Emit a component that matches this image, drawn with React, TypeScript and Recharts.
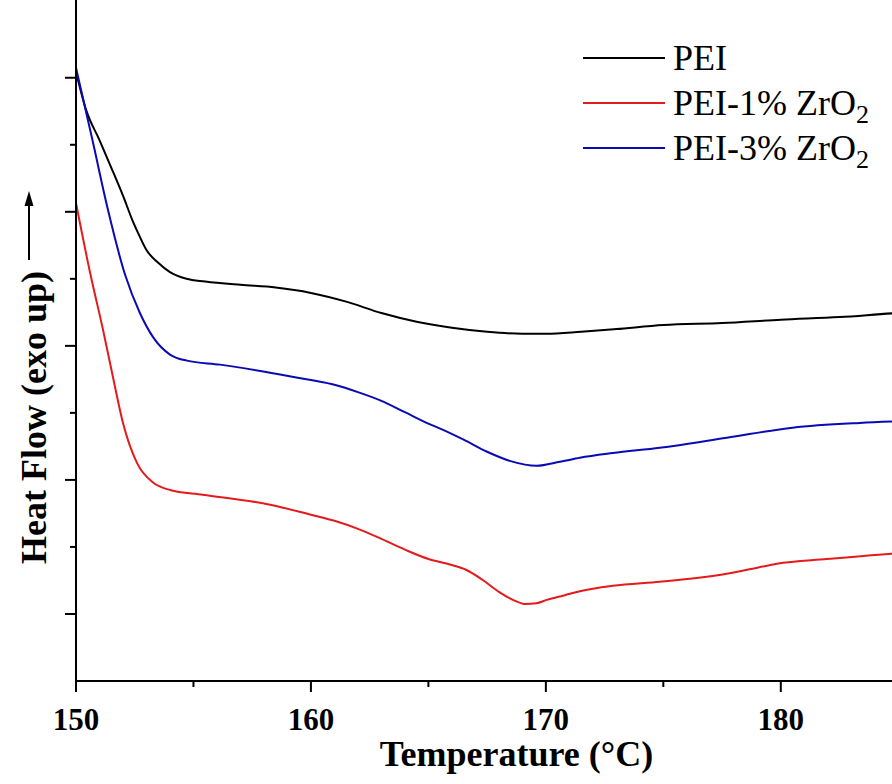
import React from "react";
import {
  LineChart,
  Line,
  XAxis,
  YAxis,
  Legend,
  Label,
} from "recharts";

const SERIF = '"Liberation Serif", "Times New Roman", serif';

// temperatures (°C) and heat flow (arbitrary units, exo up)
const PEI_T = [150.0, 150.43, 151.0, 151.5, 152.0, 152.43, 152.7, 153.0, 153.5, 154.0, 154.7, 155.5, 157.0, 158.5, 160.0, 161.5, 163.0, 164.5, 166.0, 167.5, 169.0, 170.0, 171.5, 173.0, 175.0, 177.5, 180.0, 182.5, 185.0, 187.5];
const PEI_V = [9.09, 8.52, 8.07, 7.66, 7.24, 6.85, 6.64, 6.43, 6.24, 6.1, 6.0, 5.96, 5.91, 5.87, 5.79, 5.66, 5.49, 5.36, 5.27, 5.21, 5.18, 5.18, 5.21, 5.25, 5.31, 5.34, 5.39, 5.43, 5.49, 5.52];

const PEI1_T = [150.0, 150.6, 151.15, 151.57, 152.0, 152.6, 153.28, 154.0, 155.4, 158.26, 160.0, 161.0, 162.0, 163.0, 164.0, 165.0, 166.0, 166.6, 167.3, 168.0, 168.6, 169.1, 169.6, 170.04, 170.8, 171.45, 172.85, 174.85, 176.5, 177.7, 179.0, 179.83, 181.96, 184.72, 187.5];
const PEI1_V = [7.13, 6.09, 5.24, 4.54, 3.85, 3.25, 2.96, 2.85, 2.78, 2.63, 2.48, 2.39, 2.27, 2.12, 1.96, 1.82, 1.73, 1.66, 1.51, 1.33, 1.21, 1.15, 1.16, 1.21, 1.28, 1.34, 1.42, 1.48, 1.54, 1.60, 1.69, 1.75, 1.82, 1.90, 1.96];

const PEI3_T = [150.0, 150.7, 151.36, 152.09, 152.72, 153.28, 154.0, 154.72, 156.13, 158.26, 160.0, 161.0, 162.0, 163.0, 164.0, 165.0, 165.6, 166.5, 167.5, 168.5, 169.6, 170.6, 171.45, 172.85, 174.85, 177.7, 180.5, 183.36, 185.5, 187.5];
const PEI3_V = [9.15, 8.07, 7.03, 6.06, 5.49, 5.13, 4.87, 4.78, 4.72, 4.6, 4.49, 4.42, 4.31, 4.18, 4.01, 3.84, 3.75, 3.6, 3.42, 3.28, 3.21, 3.27, 3.33, 3.4, 3.48, 3.63, 3.78, 3.85, 3.88, 3.9];

const X_TICKS = [150, 155, 160, 165, 170, 175, 180, 185];
const Y_TICKS = [1, 2, 3, 4, 5, 6, 7, 8, 9];

const toRows = (t: number[], v: number[]) => t.map((x, i) => ({ t: x, v: v[i] }));

const SERIES = [
  { key: "pei", name: "PEI", base: "PEI", sub: "", color: "#000000", data: toRows(PEI_T, PEI_V) },
  { key: "pei1", name: "PEI-1% ZrO2", base: "PEI-1% ZrO", sub: "2", color: "#e41a1c", data: toRows(PEI1_T, PEI1_V) },
  { key: "pei3", name: "PEI-3% ZrO2", base: "PEI-3% ZrO", sub: "2", color: "#0a0ab4", data: toRows(PEI3_T, PEI3_V) },
];

function XTick(props: any) {
  const { x, y, payload } = props;
  const major = payload.value % 10 === 0;
  return (
    <g>
      <line x1={x} x2={x} y1={y} y2={y + (major ? 11 : 6)} stroke="#000" strokeWidth={2} />
      {major && (
        <text x={x} y={y + 49} textAnchor="middle" fontFamily={SERIF} fontWeight="bold" fontSize={31} fill="#000">
          {payload.value}
        </text>
      )}
    </g>
  );
}

function YTick(props: any) {
  const { x, y, payload } = props;
  const major = payload.value % 2 === 1;
  return <line x1={x - (major ? 11 : 6)} x2={x} y1={y} y2={y} stroke="#000" strokeWidth={2} />;
}

function YTitle() {
  return (
    <g>
      <text
        x={46}
        y={271}
        transform="rotate(-90 46 271)"
        textAnchor="end"
        fontFamily={SERIF}
        fontWeight="bold"
        fontSize={36}
        fill="#000"
      >
        Heat Flow (exo up)
      </text>
      <line x1={29} x2={29} y1={260} y2={204} stroke="#000" strokeWidth={2} />
      <polygon points="29,191 24.5,206 33.5,206" fill="#000" />
    </g>
  );
}

function XTitle(props: any) {
  const { viewBox } = props;
  return (
    <text
      x={viewBox.x + viewBox.width / 2}
      y={766}
      textAnchor="middle"
      fontFamily={SERIF}
      fontWeight="bold"
      fontSize={36}
      fill="#000"
    >
      Temperature (°C)
    </text>
  );
}

function LegendBox() {
  return (
    <div style={{ fontFamily: SERIF, fontSize: 36, color: "#000" }}>
      {SERIES.map((s) => (
        <div key={s.key} style={{ display: "flex", alignItems: "center", height: 45 }}>
          <svg width={82} height={4} style={{ display: "block" }}>
            <line x1={0} x2={82} y1={2} y2={2} stroke={s.color} strokeWidth={2} />
          </svg>
          <span style={{ marginLeft: 8, whiteSpace: "nowrap", lineHeight: "36px" }}>
            {s.base}
            {s.sub && <sub style={{ fontSize: 26, verticalAlign: "-8px", lineHeight: 0 }}>{s.sub}</sub>}
          </span>
        </div>
      ))}
    </div>
  );
}

export default function App() {
  return (
    <div style={{ position: "absolute", left: 0, top: 0, width: 892, height: 784, overflow: "hidden", background: "#fff" }}>
      <LineChart width={967} height={784} margin={{ top: 0, right: 10, bottom: 0, left: 0 }}>
        <XAxis
          dataKey="t"
          type="number"
          domain={[150, 187.5]}
          ticks={X_TICKS}
          allowDataOverflow
          height={103}
          tickSize={0}
          tickMargin={0}
          tickLine={false}
          tick={<XTick />}
          axisLine={{ stroke: "#000", strokeWidth: 2 }}
          interval={0}
        >
          <Label content={<XTitle />} />
        </XAxis>
        <YAxis
          type="number"
          domain={[0, 10.16]}
          ticks={Y_TICKS}
          allowDataOverflow
          width={76}
          tickSize={0}
          tickMargin={0}
          tickLine={false}
          tick={<YTick />}
          axisLine={{ stroke: "#000", strokeWidth: 2 }}
          interval={0}
        >
          <Label content={<YTitle />} />
        </YAxis>
        <Legend
          layout="vertical"
          align="center"
          verticalAlign="middle"
          content={<LegendBox />}
          wrapperStyle={{ position: "absolute", left: 583, top: 35, width: 309 }}
        />
        {SERIES.map((s) => (
          <Line
            key={s.key}
            data={s.data}
            dataKey="v"
            name={s.name}
            type="monotone"
            stroke={s.color}
            strokeWidth={2}
            dot={false}
            activeDot={false}
            isAnimationActive={false}
          />
        ))}
      </LineChart>
    </div>
  );
}
